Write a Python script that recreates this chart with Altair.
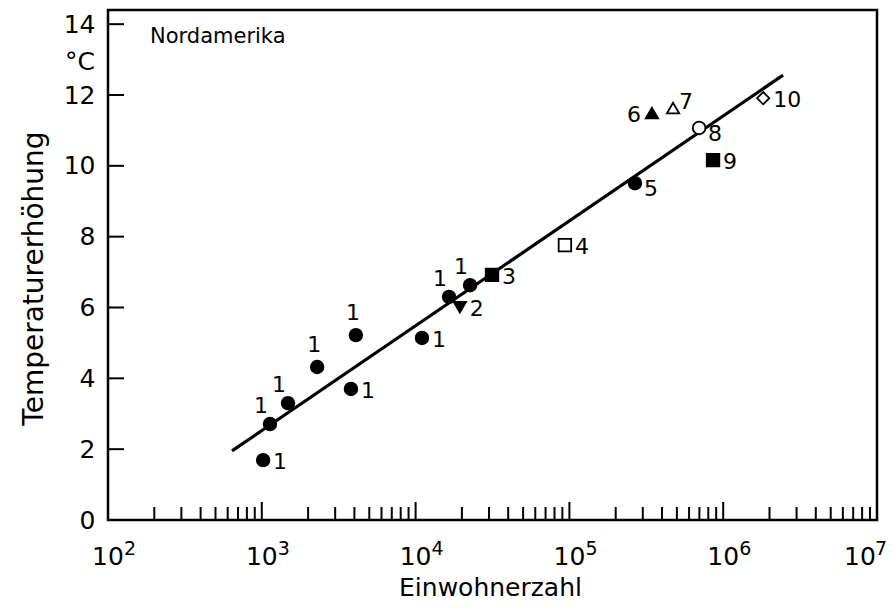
import altair as alt
import pandas as pd

# ---- data ----
populations = [1020, 1130, 1480, 2290, 4090, 3800, 11000, 16500, 22600,
               19400, 31400, 93500, 267000, 344000, 472000, 697000, 859000, 1820000]
temp_rise = [1.69, 2.71, 3.30, 4.32, 5.22, 3.70, 5.14, 6.30, 6.63,
             6.01, 6.92, 7.76, 9.51, 11.49, 11.63, 11.07, 10.16, 11.91]
point_labels = ["1", "1", "1", "1", "1", "1", "1", "1", "1",
                "2", "3", "4", "5", "6", "7", "8", "9", "10"]
symbols = ["fcircle"] * 9 + ["ftri_down", "fsquare", "osquare", "fcircle",
                             "ftri_up", "otri_up", "ocircle", "fsquare", "odiamond"]
label_pos = ["r", "ul", "ul", "u", "u", "r", "r", "ul", "ul",
             "r", "r", "r", "dr", "l", "ur", "dr", "r", "r"]

fit_x = [640, 2450000]
fit_y = [1.95, 12.56]

y_ticks = [2, 4, 6, 8, 10, 12, 14]
x_decades = [1e2, 1e3, 1e4, 1e5, 1e6]
x_decade_exp = ["2", "3", "4", "5", "6"]
x_last = [1e7]
x_last_exp = ["7"]
x_major_ticks = [1e3, 1e4, 1e5, 1e6]
x_minor_ticks = [m * 10 ** e for e in range(2, 7) for m in range(2, 10)]

FONT = "DejaVu Sans"

sym_domain = ["fcircle", "ocircle", "fsquare", "osquare", "ftri_up", "otri_up", "ftri_down", "odiamond"]
shape_range = ["circle", "circle", "square", "square", "triangle-up", "triangle-up", "triangle-down", "diamond"]
fill_range = ["black", "white", "black", "white", "black", "white", "black", "white"]
size_range = [160, 150, 120, 110, 140, 120, 140, 210]

pts = pd.DataFrame({"N": populations, "T": temp_rise, "lab": point_labels,
                    "sym": symbols, "pos": label_pos})
fit = pd.DataFrame({"N": fit_x, "T": fit_y})

xscale = alt.Scale(type="log", domain=[1e2, 1e7], nice=False)
yscale = alt.Scale(domain=[0, 14.4], nice=False, zero=False)

x_axis = alt.Axis(values=[1e2, 1e7], grid=False, domain=False, ticks=False, labels=False,
                  title="Einwohnerzahl", titleFont=FONT, titleFontSize=25,
                  titleFontWeight="normal", titleColor="black",
                  titleBaseline="alphabetic", titleY=75, titleX=382)
y_axis = alt.Axis(values=[0] + y_ticks, grid=False, domain=False, ticks=False,
                  labelFont=FONT, labelFontSize=25, labelColor="black",
                  labelPadding=13, labelFlush=False, labelOverlap=False,
                  title="Temperaturerhöhung", titleFont=FONT, titleFontSize=28,
                  titleFontWeight="normal", titleColor="black",
                  titleAngle=-90, titleBaseline="alphabetic", titleAlign="center",
                  titleX=-66, titleY=268)

line = alt.Chart(fit).mark_line(color="black", strokeWidth=3.2).encode(
    x=alt.X("N:Q", scale=xscale, axis=x_axis),
    y=alt.Y("T:Q", scale=yscale, axis=y_axis),
)

points = alt.Chart(pts).mark_point(filled=True, stroke="black", strokeWidth=1.8, opacity=1).encode(
    x=alt.X("N:Q", scale=xscale),
    y=alt.Y("T:Q", scale=yscale),
    shape=alt.Shape("sym:N", scale=alt.Scale(domain=sym_domain, range=shape_range), legend=None),
    fill=alt.Fill("sym:N", scale=alt.Scale(domain=sym_domain, range=fill_range), legend=None),
    size=alt.Size("sym:N", scale=alt.Scale(domain=sym_domain, range=size_range), legend=None),
)

pos_style = {
    "r": dict(align="left", dx=10, dy=2),
    "ul": dict(align="center", dx=-9, dy=-18),
    "u": dict(align="center", dx=-3, dy=-22),
    "l": dict(align="right", dx=-11, dy=2),
    "ur": dict(align="left", dx=6, dy=-6),
    "dr": dict(align="left", dx=9, dy=6),
}
label_layers = []
for key, st in pos_style.items():
    label_layers.append(
        alt.Chart(pts).transform_filter(alt.datum.pos == key).mark_text(
            font=FONT, fontSize=22, color="black", baseline="middle", **st
        ).encode(
            x=alt.X("N:Q", scale=xscale),
            y=alt.Y("T:Q", scale=yscale),
            text="lab:N",
        )
    )

# x tick labels as "10" plus a raised exponent
dec_df = pd.DataFrame({"N": x_decades, "e": x_decade_exp})
last_df = pd.DataFrame({"N": x_last, "e": x_last_exp})
dec_base = alt.Chart(dec_df).mark_text(font=FONT, fontSize=25, align="center", baseline="alphabetic",
                                       color="black").encode(
    x=alt.X("N:Q", scale=xscale), y=alt.value(555), text=alt.value("10"))
dec_exp = alt.Chart(dec_df).mark_text(font=FONT, fontSize=19, align="left", baseline="alphabetic",
                                      color="black", dx=16).encode(
    x=alt.X("N:Q", scale=xscale), y=alt.value(545), text="e:N")
last_base = alt.Chart(last_df).mark_text(font=FONT, fontSize=25, align="center", baseline="alphabetic",
                                         color="black", dx=-17).encode(
    x=alt.X("N:Q", scale=xscale), y=alt.value(555), text=alt.value("10"))
last_exp = alt.Chart(last_df).mark_text(font=FONT, fontSize=19, align="left", baseline="alphabetic",
                                        color="black", dx=-2).encode(
    x=alt.X("N:Q", scale=xscale), y=alt.value(545), text="e:N")

# inward ticks
y_tick_df = pd.DataFrame({"T": y_ticks})
y_tick_rules = alt.Chart(y_tick_df).mark_rule(color="black", strokeWidth=2).encode(
    y=alt.Y("T:Q", scale=yscale), x=alt.value(0), x2=alt.value(16))
xmaj_df = pd.DataFrame({"N": x_major_ticks})
xmaj_rules = alt.Chart(xmaj_df).mark_rule(color="black", strokeWidth=2).encode(
    x=alt.X("N:Q", scale=xscale), y=alt.value(510), y2=alt.value(492))
xmin_df = pd.DataFrame({"N": x_minor_ticks})
xmin_rules = alt.Chart(xmin_df).mark_rule(color="black", strokeWidth=2).encode(
    x=alt.X("N:Q", scale=xscale), y=alt.value(510), y2=alt.value(497))

region_df = pd.DataFrame({"txt": ["Nordamerika"]})
region = alt.Chart(region_df).mark_text(font=FONT, fontSize=21, align="left", baseline="middle",
                                         color="black").encode(
    text="txt:N", x=alt.value(42), y=alt.value(27))

unit_df = pd.DataFrame({"txt": ["°C"], "T": [12.93]})
unit = alt.Chart(unit_df).mark_text(font=FONT, fontSize=25, align="right", baseline="middle",
                                     color="black").encode(
    text="txt:N", y=alt.Y("T:Q", scale=yscale), x=alt.value(-13))

chart = alt.layer(line, y_tick_rules, xmaj_rules, xmin_rules, points, *label_layers,
                  dec_base, dec_exp, last_base, last_exp, region, unit).properties(
    width=769, height=510,
    autosize=alt.AutoSizeParams(type="none"),
    padding={"left": 100, "top": 2, "right": 11, "bottom": 82},
    background="white",
).configure_view(stroke="black", strokeWidth=2.5)

chart.save("out.html", embed_options={"renderer": "svg", "actions": False})
